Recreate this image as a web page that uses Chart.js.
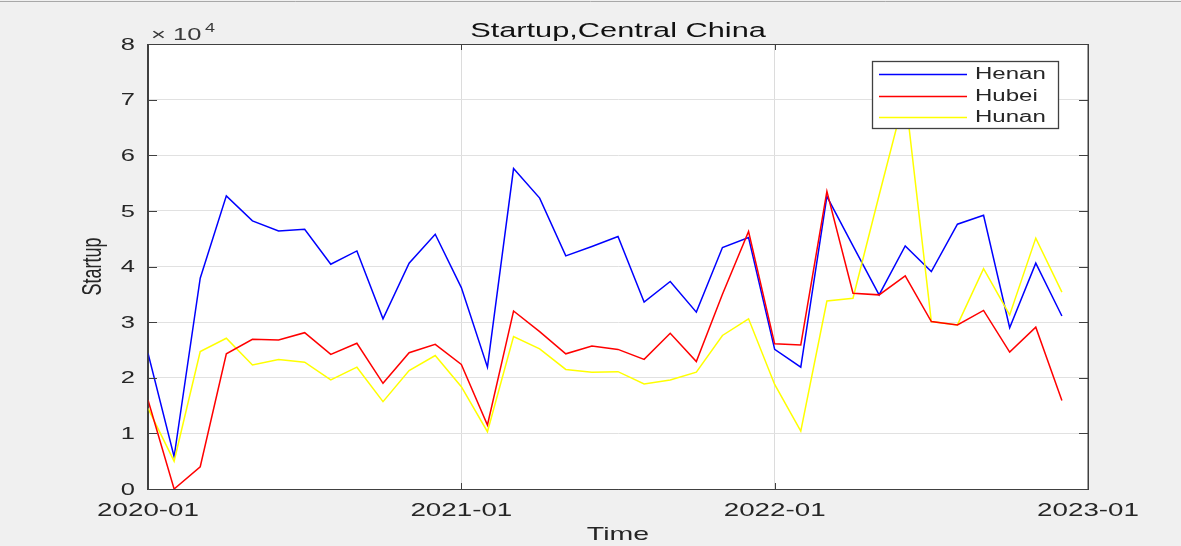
<!DOCTYPE html>
<html><head><meta charset="utf-8">
<script src="https://cdn.jsdelivr.net/npm/chart.js@4.4.1/dist/chart.umd.min.js"></script>
<style>html,body{margin:0;padding:0;background:#f0f0f0;overflow:hidden}
#wrap{position:relative;width:1181px;height:546px}</style></head>
<body><div id="wrap"><canvas id="c" width="1181" height="546"></canvas></div>
<script>
const months = ['2020-01','2020-02','2020-03','2020-04','2020-05','2020-06','2020-07','2020-08','2020-09','2020-10','2020-11','2020-12',
  '2021-01','2021-02','2021-03','2021-04','2021-05','2021-06','2021-07','2021-08','2021-09','2021-10','2021-11','2021-12',
  '2022-01','2022-02','2022-03','2022-04','2022-05','2022-06','2022-07','2022-08','2022-09','2022-10','2022-11','2022-12'];
const xTickValues = [0, 12, 24, 36];
const xTickLabels = ['2020-01', '2021-01', '2022-01', '2023-01'];
const yTickValues = [0, 10000, 20000, 30000, 40000, 50000, 60000, 70000, 80000];
const yTickLabels = ['0', '1', '2', '3', '4', '5', '6', '7', '8'];
const seriesNames = ['Henan', 'Hubei', 'Hunan'];
const henan = [24400, 5800, 37900, 52700, 48200, 46400, 46700, 40400, 42800, 30600, 40600, 45800,
  36200, 21900, 57600, 52300, 41900, 43600, 45400, 33600, 37300, 31800, 43400, 45200,
  25100, 21900, 52600, 43700, 34900, 43700, 39100, 47600, 49200, 29000, 40600, 31100];
const hubei = [16000, 0, 4000, 24300, 26900, 26800, 28100, 24200, 26200, 19000, 24500, 26000,
  22400, 11500, 32000, 28300, 24300, 25700, 25100, 23300, 28000, 22900, 35000, 46300,
  26100, 25900, 53500, 35200, 34900, 38300, 30100, 29500, 32100, 24600, 29100, 15900];
const hunan = [14500, 5000, 24700, 27100, 22300, 23300, 22800, 19600, 21900, 15700, 21300, 24000,
  18400, 10300, 27400, 25200, 21500, 21000, 21100, 18900, 19600, 21000, 27600, 30600,
  18800, 10400, 33800, 34300, 52800, 71000, 30100, 29500, 39600, 31300, 45100, 35400];

const SX = 1.5;
const FONT = '"Liberation Sans", Arial, sans-serif';
const colors = ['#0000ff', '#ff0000', '#ffff00'];
const axisColor = '#404040';

function txt(ctx, s, x, y, size, align, baseline, color, rot) {
  ctx.save();
  ctx.translate(x, y);
  ctx.scale(SX, 1);
  if (rot) ctx.rotate(rot);
  ctx.font = size + 'px ' + FONT;
  ctx.textAlign = align;
  ctx.textBaseline = baseline;
  ctx.fillStyle = color;
  ctx.fillText(s, 0, 0);
  ctx.restore();
}

const pts = arr => months.map((m, i) => ({x: i, y: arr[i]}));

const matlabPlugin = {
  id: 'matlab',
  beforeDraw(chart) {
    const ctx = chart.ctx, a = chart.chartArea;
    ctx.save();
    ctx.fillStyle = '#f0f0f0';
    ctx.fillRect(0, 0, chart.width, chart.height);
    ctx.fillStyle = '#ffffff';
    ctx.fillRect(a.left, a.top, a.right - a.left, a.bottom - a.top);
    ctx.strokeStyle = '#a8a8a8';
    ctx.lineWidth = 1;
    ctx.beginPath(); ctx.moveTo(0, 1.5); ctx.lineTo(chart.width, 1.5); ctx.stroke();
    ctx.restore();
  },
  afterDraw(chart) {
    const ctx = chart.ctx, a = chart.chartArea;
    const xs = chart.scales.x, ys = chart.scales.y;
    ctx.save();
    // box
    ctx.strokeStyle = axisColor;
    ctx.lineWidth = 1;
    ctx.beginPath();
    ctx.moveTo(a.left, a.top + 0.5); ctx.lineTo(a.right, a.top + 0.5);
    ctx.moveTo(a.left, a.bottom + 0.5); ctx.lineTo(a.right + 1, a.bottom + 0.5);
    ctx.stroke();
    ctx.lineWidth = 1.5;
    ctx.beginPath();
    ctx.moveTo(a.right + 0.25, a.top); ctx.lineTo(a.right + 0.25, a.bottom + 1);
    ctx.moveTo(a.left - 0.25, a.top); ctx.lineTo(a.left - 0.25, a.bottom + 1);
    ctx.stroke();
    // inward ticks
    ctx.lineWidth = 1;
    ctx.beginPath();
    yTickValues.forEach(v => {
      const y = Math.round(ys.getPixelForValue(v)) + 0.5;
      ctx.moveTo(a.left, y); ctx.lineTo(a.left + 9, y);
      ctx.moveTo(a.right, y); ctx.lineTo(a.right - 9, y);
    });
    xTickValues.forEach(v => {
      const x = Math.round(xs.getPixelForValue(v)) + 0.5;
      ctx.moveTo(x, a.bottom); ctx.lineTo(x, a.bottom - 6);
      ctx.moveTo(x, a.top); ctx.lineTo(x, a.top + 6);
    });
    ctx.stroke();
    // tick labels
    yTickValues.forEach((v, i) => {
      txt(ctx, yTickLabels[i], 135, ys.getPixelForValue(v) + 1, 17, 'right', 'middle', '#262626');
    });
    xTickValues.forEach((v, i) => {
      txt(ctx, xTickLabels[i], xs.getPixelForValue(v), 516, 18.5, 'center', 'alphabetic', '#262626');
    });
    // exponent
    txt(ctx, '\u00d7', 151, 40, 17, 'left', 'alphabetic', '#3a3a3a');
    txt(ctx, '10', 173, 40, 17, 'left', 'alphabetic', '#3a3a3a');
    txt(ctx, '4', 205, 32, 12, 'left', 'alphabetic', '#3a3a3a');
    // titles
    const cx = (a.left + a.right) / 2;
    txt(ctx, 'Startup,Central China', cx, 37, 20.5, 'center', 'alphabetic', '#111111');
    txt(ctx, 'Time', cx, 540, 19, 'center', 'alphabetic', '#262626');
    txt(ctx, 'Startup', 101, (a.top + a.bottom) / 2, 18, 'center', 'alphabetic', '#262626', -Math.PI / 2);
    // legend
    ctx.fillStyle = '#ffffff';
    ctx.fillRect(873, 62, 186, 67);
    ctx.strokeStyle = axisColor;
    ctx.lineWidth = 1.3;
    ctx.strokeRect(872.5, 61.5, 186, 67);
    const ly = [74, 96, 117];
    seriesNames.forEach((n, i) => {
      ctx.strokeStyle = colors[i];
      ctx.lineWidth = 1.3;
      ctx.beginPath(); ctx.moveTo(879, ly[i] + 0.5); ctx.lineTo(967, ly[i] + 0.5); ctx.stroke();
      txt(ctx, n, 975, ly[i] + 1, 16, 'left', 'middle', '#262626');
    });
    ctx.restore();
  }
};

new Chart(document.getElementById('c'), {
  type: 'line',
  data: {
    datasets: [
      {label: seriesNames[0], data: pts(henan), borderColor: colors[0], order: 2},
      {label: seriesNames[1], data: pts(hubei), borderColor: colors[1], order: 0},
      {label: seriesNames[2], data: pts(hunan), borderColor: colors[2], order: 1}
    ]
  },
  options: {
    responsive: false,
    animation: false,
    devicePixelRatio: 1,
    layout: {padding: {left: 0, right: 93, top: 44, bottom: 0}},
    elements: {
      line: {borderWidth: 1.5, tension: 0, fill: false},
      point: {radius: 0, hoverRadius: 0}
    },
    plugins: {legend: {display: false}, title: {display: false}, tooltip: {enabled: false}},
    events: [],
    scales: {
      x: {
        type: 'linear', min: 0, max: 36,
        afterBuildTicks: s => { s.ticks = xTickValues.map(v => ({value: v})); },
        afterFit: s => { s.height = 57; },
        ticks: {display: false},
        grid: {
          drawTicks: false,
          color: c => (c.tick && (c.tick.value === 12 || c.tick.value === 24)) ? '#dcdcdc' : 'rgba(0,0,0,0)',
          lineWidth: 1
        },
        border: {display: true, color: axisColor, width: 1}
      },
      y: {
        type: 'linear', min: 0, max: 80000,
        afterBuildTicks: s => { s.ticks = yTickValues.map(v => ({value: v})); },
        afterFit: s => { s.width = 148; },
        ticks: {display: false},
        grid: {drawTicks: false, color: '#e1e1e1', lineWidth: 1},
        border: {display: true, color: axisColor, width: 1}
      }
    }
  },
  plugins: [matlabPlugin]
});
</script></body></html>
